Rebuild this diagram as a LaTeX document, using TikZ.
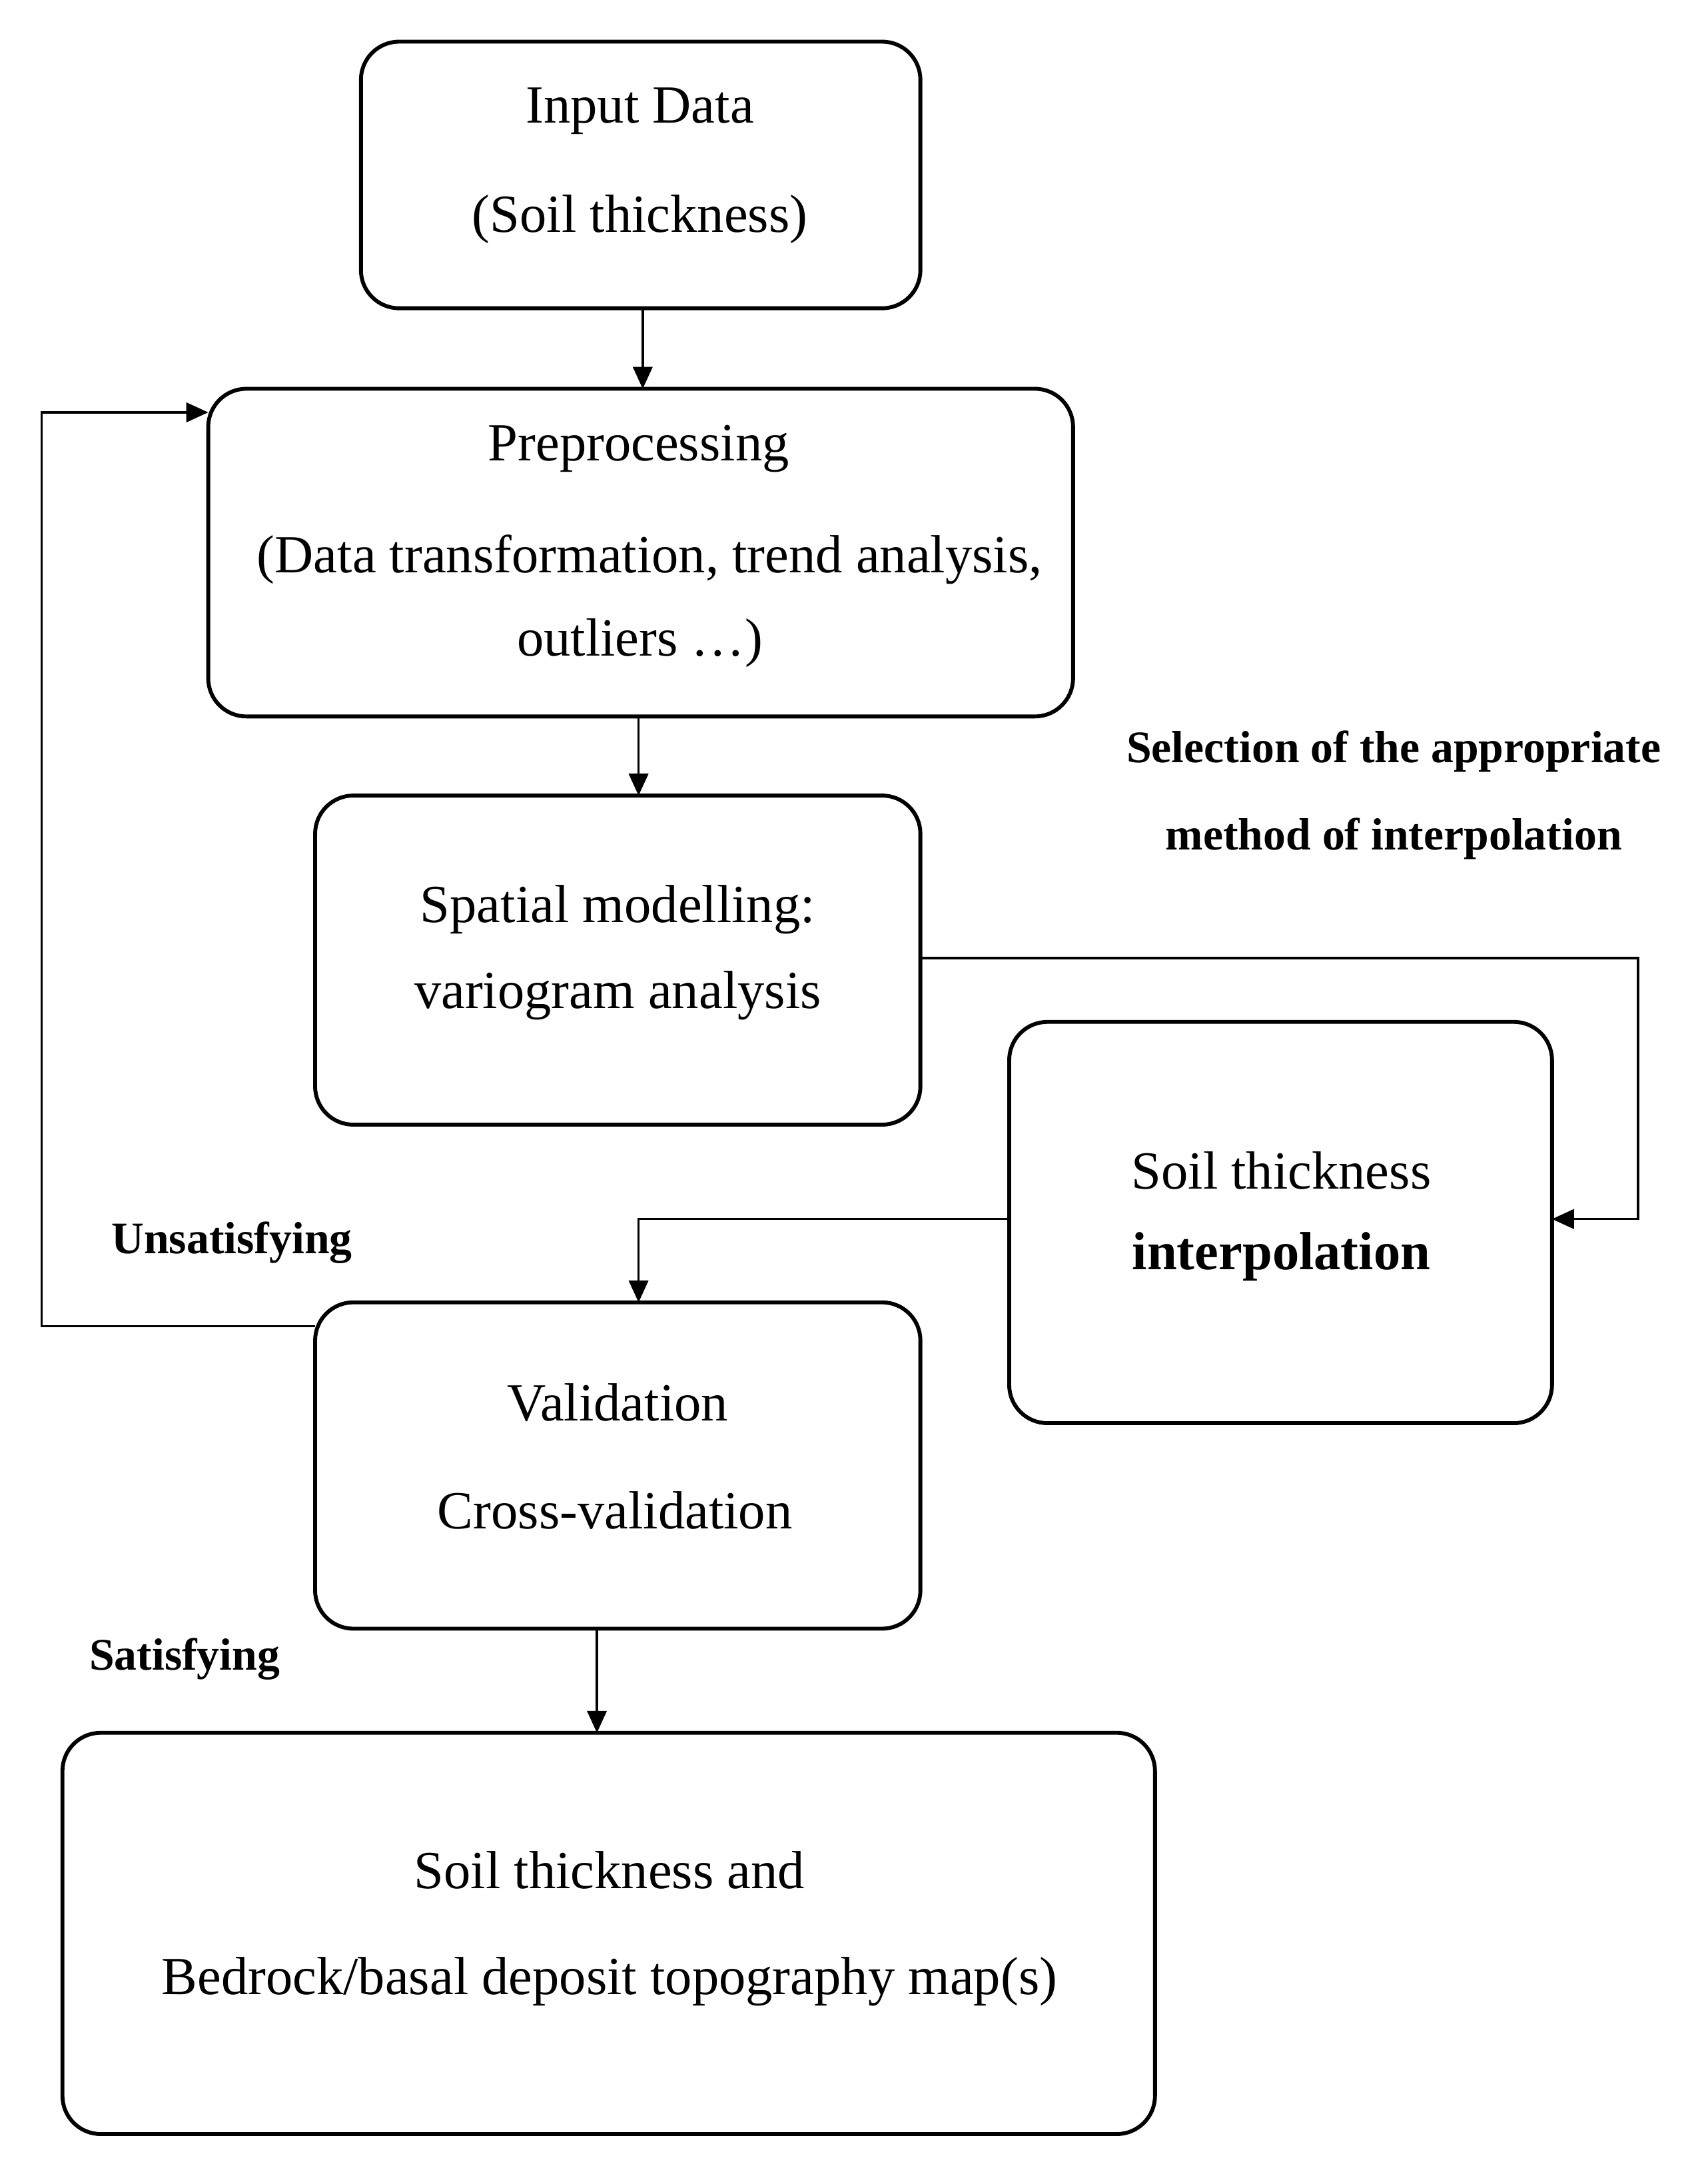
\documentclass[tikz,border=0pt]{standalone}
\usepackage{fontspec}
\setmainfont{Liberation Serif}
\usetikzlibrary{arrows.meta}
\begin{document}
\begin{tikzpicture}[x=0.02cm,y=-0.02cm,
 box/.style={draw,line width=1.6pt,rounded corners=0.55cm},
 txt/.style={font=\fontsize{22}{26}\selectfont,inner sep=0pt},
 lab/.style={font=\fontsize{18.5}{22}\selectfont\bfseries,inner sep=0pt},
 arr/.style={line width=0.9pt,-{Triangle[length=9pt,width=8pt]}},
 ln/.style={line width=0.9pt}]
\useasboundingbox (0,0) rectangle (1230,1573);
\draw[box] (260,30) rectangle (663,222);
\draw[box] (150,280) rectangle (773,516);
\draw[box] (227,573) rectangle (663,810);
\draw[box] (727,736) rectangle (1118,1025);
\draw[box] (227,938) rectangle (663,1173);
\draw[box] (45,1248) rectangle (832,1537);
\node[txt] (t1) at (461,80) {Input Data};
\node[txt] (t2) at (461,158) {(Soil thickness)};
\node[txt] (t3) at (460,323) {Preprocessing};
\node[txt] (t4) at (468,403) {(Data transformation, trend analysis,};
\node[txt] (t5) at (461,463) {outliers …)};
\node[txt] (t6) at (445,655) {Spatial modelling:};
\node[txt] (t7) at (445,717) {variogram analysis};
\node[txt] (t8) at (923,843) {Soil thickness};
\node[txt,font=\fontsize{22}{26}\selectfont\bfseries] (t9) at (923,905) {interpolation};
\node[txt] (t10) at (445,1010) {Validation};
\node[txt] (t11) at (443,1088) {Cross-validation};
\node[txt] (t12) at (439,1347) {Soil thickness and};
\node[txt] (t13) at (439,1427) {Bedrock/basal deposit topography map(s)};
\node[lab] (l1) at (1004,541) {Selection of the appropriate};
\node[lab] (l2) at (1004,604) {method of interpolation};
\node[lab] (l3) at (167,895) {Unsatisfying};
\node[lab] (l4) at (133,1195) {Satisfying};
\coordinate (a1) at (463,222); \coordinate (a2) at (463,280);
\coordinate (b1) at (460,516); \coordinate (b2) at (460,573);
\coordinate (c1) at (663,690); \coordinate (c2) at (1180,690);
\coordinate (c3) at (1180,878); \coordinate (c4) at (1118,878);
\coordinate (d1) at (727,878); \coordinate (d2) at (460,878); \coordinate (d3) at (460,938);
\coordinate (e1) at (227,955); \coordinate (e2) at (30,955);
\coordinate (e3) at (30,297); \coordinate (e4) at (150,297);
\coordinate (f1) at (430,1173); \coordinate (f2) at (430,1248);
\draw[arr] (a1) -- (a2);
\draw[arr] (b1) -- (b2);
\draw[arr] (c1) -- (c2) -- (c3) -- (c4);
\draw[arr] (d1) -- (d2) -- (d3);
\draw[arr] (e1) -- (e2) -- (e3) -- (e4);
\draw[arr] (f1) -- (f2);
\end{tikzpicture}
\end{document}
